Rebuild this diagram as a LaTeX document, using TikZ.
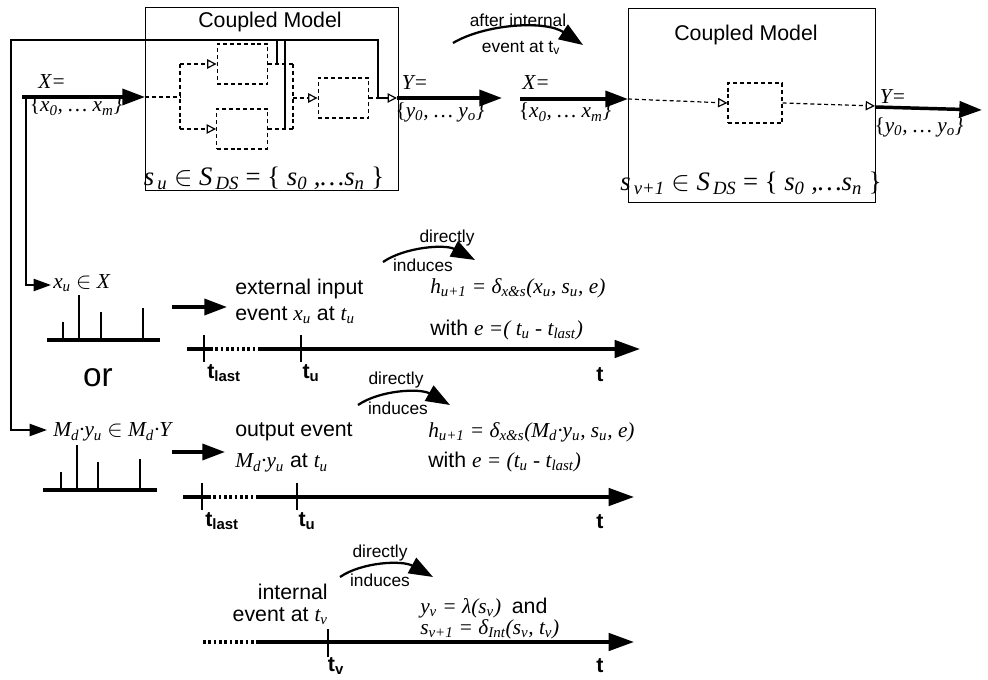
\documentclass[tikz,border=0pt]{standalone}
\usepackage{fontspec}
\setmainfont{Liberation Sans}
\newfontfamily\tms{Liberation Serif}
\usetikzlibrary{arrows.meta}

\tikzset{
  thk/.style={line width=2.6pt},
  lnk/.style={line width=1.7pt},
  dsh/.style={line width=0.9pt, dash pattern=on 3pt off 2.2pt},
  bigtip/.style={-{Triangle[length=17pt,width=12pt]}},
  axtip/.style={-{Triangle[length=19pt,width=13pt]}},
  midtip/.style={-{Triangle[length=13pt,width=9pt]}},
  arctip/.style={-{Triangle[length=18pt,width=13pt]}},
  port/.style={-{Triangle[open,length=7pt,width=7pt,line width=0.9pt]}},
  txt/.style={font=\fontsize{16}{19}\selectfont, inner sep=0pt},
  sml/.style={font=\fontsize{13}{14}\selectfont, inner sep=0pt},
  mth/.style={font=\tms\itshape\fontsize{16}{19}\selectfont, inner sep=0pt},
  bigm/.style={font=\tms\itshape\fontsize{20}{22}\selectfont, inner sep=0pt},
  tlab/.style={font=\bfseries\fontsize{16}{19}\selectfont, inner sep=0pt},
  cpl/.style={draw, line width=0.8pt, inner sep=0pt},
  atom/.style={draw, dsh, inner sep=0pt, minimum width=38pt, minimum height=30pt}
}

\begin{document}
\begin{tikzpicture}[x=0.75pt,y=0.75pt,yscale=-1,xscale=1]
\useasboundingbox (0,0) rectangle (988,680);

%Shape: Coupled Model (before)
\node (cm1) [cpl, anchor=north west, minimum width=189.75pt, minimum height=137.25pt] at (145,7) {};
\node (cm1t) [txt] at (270,22) {Coupled Model};
\node (cm1s) [bigm] at (264,178) {s\textsubscript{\,u} $\in$ S\textsubscript{\,DS} \upshape= \{ \itshape s\textsubscript{0} ,\dots s\textsubscript{n} \upshape\}};
%Shape: atomic models
\node (up) [atom] at (242.5,64) {};
\node (lo) [atom] at (242,129) {};
\node (rt) [atom] at (343.5,98) {};
\coordinate (xin) at (145,97);
\coordinate (spl) at (180,97);
\coordinate (splu) at (180,64);
\coordinate (spll) at (180,129);
\coordinate (mrgu) at (293,64);
\coordinate (mrgl) at (293,129);
\coordinate (mrg) at (293,98);
\coordinate (yout) at (378,98);
\coordinate (yport) at (397,98);

%Dashed couplings
\draw[dsh] (xin) -- (spl);
\draw[dsh] (splu) -- (spll);
\draw[dsh,port] (splu) -- (up.west);
\draw[dsh,port] (spll) -- (lo.west);
\draw[dsh] (up.east) -- (mrgu);
\draw[dsh] (lo.east) -- (mrgl);
\draw[dsh] (mrgu) -- (mrgl);
\draw[dsh,port] (mrg) -- (rt.west);
\draw[dsh] (rt.east) -- (yout);
\draw[line width=0.9pt,port] (yout) -- (yport);

%Thick feedback lines
\draw[lnk] (277,40) -- (277,64);
\draw[lnk] (285,40) -- (285,129);
\draw[lnk,midtip] (yout) |- (11,40) |- (47,430);

%Input X (before)
\node (x1a) [mth] at (52,82) {X=};
\node (x1b) [mth] at (76,106) {\upshape\{\itshape x\textsubscript{0}, \dots\ x\textsubscript{m}\}};
\draw[thk,bigtip] (22,97) -- (xin);
\draw[lnk,midtip] (26,97) |- (51,285);

%Output Y (before)
\node (y1a) [mth] at (415,83) {Y=};
\node (y1b) [mth] at (440,112) {\upshape\{\itshape y\textsubscript{0}, \dots\ y\textsubscript{o}\}};
\draw[thk,bigtip] (yport) -- (502,98);

%after internal event arrow
\node (aft1) [sml] at (518,20) {after internal};
\node (aft2) [sml] at (521,48) {event at t\textsubscript{v}};
\draw[lnk,arctip] (453,43) .. controls (485,24) and (545,20) .. (583,45);

%Input X (after)
\node (x2a) [mth] at (536,83) {X=};
\node (x2b) [mth] at (565,112) {\upshape\{\itshape x\textsubscript{0}, \dots\ x\textsubscript{m}\}};
\draw[thk,bigtip] (520,99) -- (628,99);

%Shape: Coupled Model (after)
\node (cm2) [cpl, anchor=north west, minimum width=185.25pt, minimum height=145.5pt] at (628,8) {};
\node (cm2t) [txt] at (746,35) {Coupled Model};
\node (cm2s) [bigm] at (751,183) {s\textsubscript{\,v+1} $\in$ S\textsubscript{\,DS} \upshape= \{ \itshape s\textsubscript{0} ,\dots s\textsubscript{n} \upshape\}};
\node (one) [atom, minimum width=40.5pt] at (755,103) {};
\draw[dsh,port] (628,99) -- (one.west);
\draw[dsh,port] (one.east) -- (875,106);
\node (y2a) [mth] at (893,97) {Y=};
\node (y2b) [mth] at (919,127) {\upshape\{\itshape y\textsubscript{0}, \dots\ y\textsubscript{o}\}};
\draw[thk,bigtip] (875,107) -- (982,110);

%External input event
\node (xu) [mth, anchor=west] at (53,283) {x\textsubscript{u} $\in$ X};
\draw[thk] (47,340) -- (160,340);
\foreach \x/\h in {63/322,101/312,143/308} \draw[line width=0.9pt] (\x,340) -- (\x,\h);
\draw[lnk] (79,340) -- (79,295);
\node (or) [font=\fontsize{25}{28}\selectfont, inner sep=0pt] at (98,378) {or};
\draw[thk,bigtip] (172,307) -- (227,307);
\node (ext1) [txt, anchor=west] at (235,289) {external input};
\node (ext2) [txt, anchor=west] at (235,315) {event {\tms\itshape x\textsubscript{u}} at {\tms\itshape t\textsubscript{u}}};
\node (dir1) [sml] at (447,238) {directly};
\node (ind1) [sml] at (423,265) {induces};
\draw[lnk,arctip] (383,262) .. controls (405,247) and (445,244) .. (475,260);
\node (h1) [mth, anchor=west] at (430,288) {h\textsubscript{u+1} = δ\textsubscript{x\&s}(x\textsubscript{u}, s\textsubscript{u}, e)};
\node (w1) [txt, anchor=west] at (430,330) {with {\tms\itshape e =( t\textsubscript{u} - t\textsubscript{last})}};
%time axis 1
\draw[thk] (187,349) -- (210,349);
\draw[thk, dash pattern=on 2pt off 2pt] (210,349) -- (260,349);
\draw[thk,axtip] (260,349) -- (640,349);
\draw[lnk] (204,335) -- (204,362);
\draw[lnk] (301,335) -- (301,362);
\node (tl1) [tlab] at (224,373) {t\textsubscript{last}};
\node (tu1) [tlab] at (311,373) {t\textsubscript{u}};
\node (t1) [tlab] at (600,375) {t};

%Output event
\node (mdy) [mth, anchor=west] at (53,432) {M\textsubscript{d}·y\textsubscript{u} $\in$ M\textsubscript{d}·Y};
\draw[thk] (43,490) -- (157,490);
\foreach \x/\h in {61/472,98/462,140/459} \draw[line width=0.9pt] (\x,490) -- (\x,\h);
\draw[lnk] (77,490) -- (77,445);
\draw[thk,bigtip] (172,452) -- (225,452);
\node (out1) [txt, anchor=west] at (235,432) {output event};
\node (out2) [txt, anchor=west] at (235,463) {{\tms\itshape M\textsubscript{d}·y\textsubscript{u}} at {\tms\itshape t\textsubscript{u}}};
\node (dir2) [sml] at (396,380) {directly};
\node (ind2) [sml] at (398,408) {induces};
\draw[lnk,arctip] (358,405) .. controls (380,390) and (420,388) .. (450,405);
\node (h2) [mth, anchor=west] at (428,432) {h\textsubscript{u+1} = δ\textsubscript{x\&s}(M\textsubscript{d}·y\textsubscript{u}, s\textsubscript{u}, e)};
\node (w2) [txt, anchor=west] at (428,462) {with {\tms\itshape e = (t\textsubscript{u} - t\textsubscript{last})}};
%time axis 2
\draw[thk] (183,497) -- (208,497);
\draw[thk, dash pattern=on 2pt off 2pt] (208,497) -- (258,497);
\draw[thk,axtip] (258,497) -- (634,497);
\draw[lnk] (202,483) -- (202,510);
\draw[lnk] (297,483) -- (297,510);
\node (tl2) [tlab] at (222,521) {t\textsubscript{last}};
\node (tu2) [tlab] at (307,521) {t\textsubscript{u}};
\node (t2) [tlab] at (600,522) {t};

%Internal event
\node (int1) [txt, anchor=east] at (328,592) {internal};
\node (int2) [txt, anchor=east] at (328,616) {event at {\tms\itshape t\textsubscript{v}}};
\node (dir3) [sml] at (380,553) {directly};
\node (ind3) [sml] at (380,580) {induces};
\draw[lnk,arctip] (340,577) .. controls (362,562) and (402,560) .. (433,577);
\node (yv) [mth, anchor=west] at (420,608) {y\textsubscript{v} = λ(s\textsubscript{v}) \ {\upshape\fontsize{16}{19}\selectfont\rmfamily and}};
\node (sv) [mth, anchor=west] at (420,629) {s\textsubscript{v+1} = δ\textsubscript{Int}(s\textsubscript{v}, t\textsubscript{v})};
%time axis 3
\draw[thk, dash pattern=on 2pt off 2pt] (203,642) -- (257,642);
\draw[thk,axtip] (257,642) -- (634,642);
\draw[lnk] (328,629) -- (328,657);
\node (tv) [tlab] at (336,666) {t\textsubscript{v}};
\node (t3) [tlab] at (600,666) {t};

\end{tikzpicture}
\end{document}
